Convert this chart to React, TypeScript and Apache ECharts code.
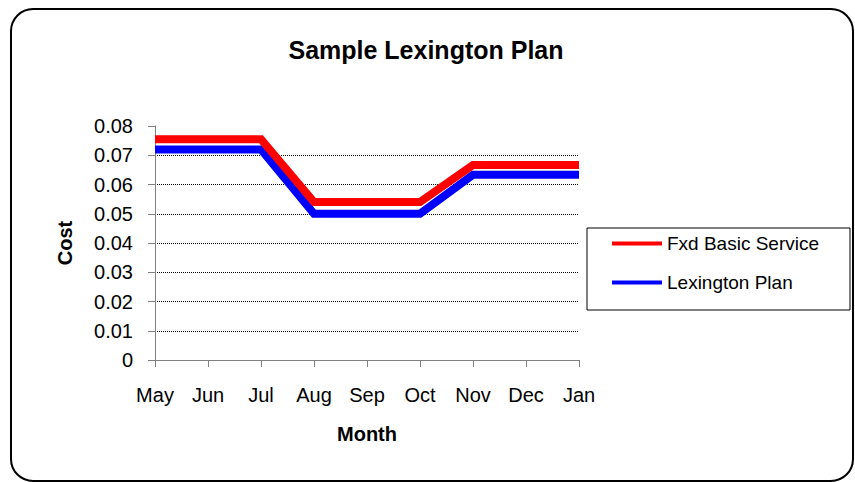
import React, { useEffect, useRef } from "react";
import * as echarts from "echarts";

const months = ["May", "Jun", "Jul", "Aug", "Sep", "Oct", "Nov", "Dec", "Jan"];
const fxdBasicService = [0.0755, 0.0755, 0.0755, 0.054, 0.054, 0.054, 0.0667, 0.0667, 0.0667];
const lexingtonPlan = [0.072, 0.072, 0.072, 0.05, 0.05, 0.05, 0.0633, 0.0633, 0.0633];
const seriesNames = ["Fxd Basic Service", "Lexington Plan"];

const FONT = "Arial, 'Liberation Sans', sans-serif";

export default function App() {
  const ref = useRef<HTMLDivElement>(null);
  useEffect(() => {
    if (!ref.current) return;
    const chart = echarts.init(ref.current, undefined, { renderer: "svg" });
    chart.setOption({
      animation: false,
      backgroundColor: "#ffffff",
      title: {
        text: "Sample Lexington Plan",
        left: 421,
        textAlign: "center",
        top: 32,
        textStyle: { fontFamily: FONT, fontSize: 25, fontWeight: "bold", color: "#000" },
      },
      graphic: [
        {
          type: "rect",
          shape: { x: 11, y: 9, width: 842, height: 472, r: 22 },
          style: { fill: "none", stroke: "#000", lineWidth: 2 },
          z: 100,
        },
        {
          type: "rect",
          shape: { x: 587, y: 228, width: 263, height: 82 },
          style: { fill: "#fff", stroke: "#000", lineWidth: 1 },
          z: 1,
        },
      ],
      legend: {
        data: seriesNames,
        orient: "vertical",
        left: 612,
        top: 234,
        itemGap: 20,
        itemWidth: 50,
        itemHeight: 4,
        icon: "rect",
        padding: 0,
        textStyle: { fontFamily: FONT, fontSize: 19, color: "#000" },
        z: 5,
      },
      grid: {
        left: 155,
        right: 276,
        top: 126,
        bottom: 122,
        containLabel: false,
        outerBoundsMode: "none",
      },
      xAxis: {
        type: "category",
        data: months,
        boundaryGap: false,
        name: "Month",
        nameLocation: "middle",
        nameGap: 64,
        nameTextStyle: { fontFamily: FONT, fontSize: 20, fontWeight: "bold", color: "#000" },
        axisLine: { lineStyle: { color: "#808080", width: 1 } },
        axisTick: { show: true, length: 7, lineStyle: { color: "#808080" } },
        axisLabel: { margin: 25, fontFamily: FONT, fontSize: 20, color: "#000" },
        splitLine: { show: false },
      },
      yAxis: {
        type: "value",
        min: 0,
        max: 0.08,
        interval: 0.01,
        name: "Cost",
        nameLocation: "middle",
        nameGap: 80,
        nameRotate: 90,
        nameTextStyle: { fontFamily: FONT, fontSize: 20, fontWeight: "bold", color: "#000" },
        axisLine: { show: true, lineStyle: { color: "#808080", width: 1 } },
        axisTick: { show: true, length: 7, lineStyle: { color: "#808080" } },
        axisLabel: {
          margin: 22,
          fontFamily: FONT,
          fontSize: 20,
          color: "#000",
          formatter: (v: number) => (v === 0 ? "0" : v.toFixed(2)),
        },
        splitLine: {
          show: true,
          showMaxLine: false,
          lineStyle: { type: "dotted", color: "#000", width: 1 },
        },
      },
      series: [
        {
          name: seriesNames[1],
          type: "line",
          data: lexingtonPlan,
          symbol: "none",
          color: "#0000ff",
          lineStyle: { width: 8, color: "#0000ff", join: "miter" },
          z: 2,
        },
        {
          name: seriesNames[0],
          type: "line",
          data: fxdBasicService,
          symbol: "none",
          color: "#ff0000",
          lineStyle: { width: 8, color: "#ff0000", join: "miter" },
          z: 3,
        },
      ],
    });
    return () => chart.dispose();
  }, []);
  return (
    <div
      ref={ref}
      style={{ position: "fixed", left: 0, top: 0, width: 855, height: 482, background: "#fff" }}
    />
  );
}
